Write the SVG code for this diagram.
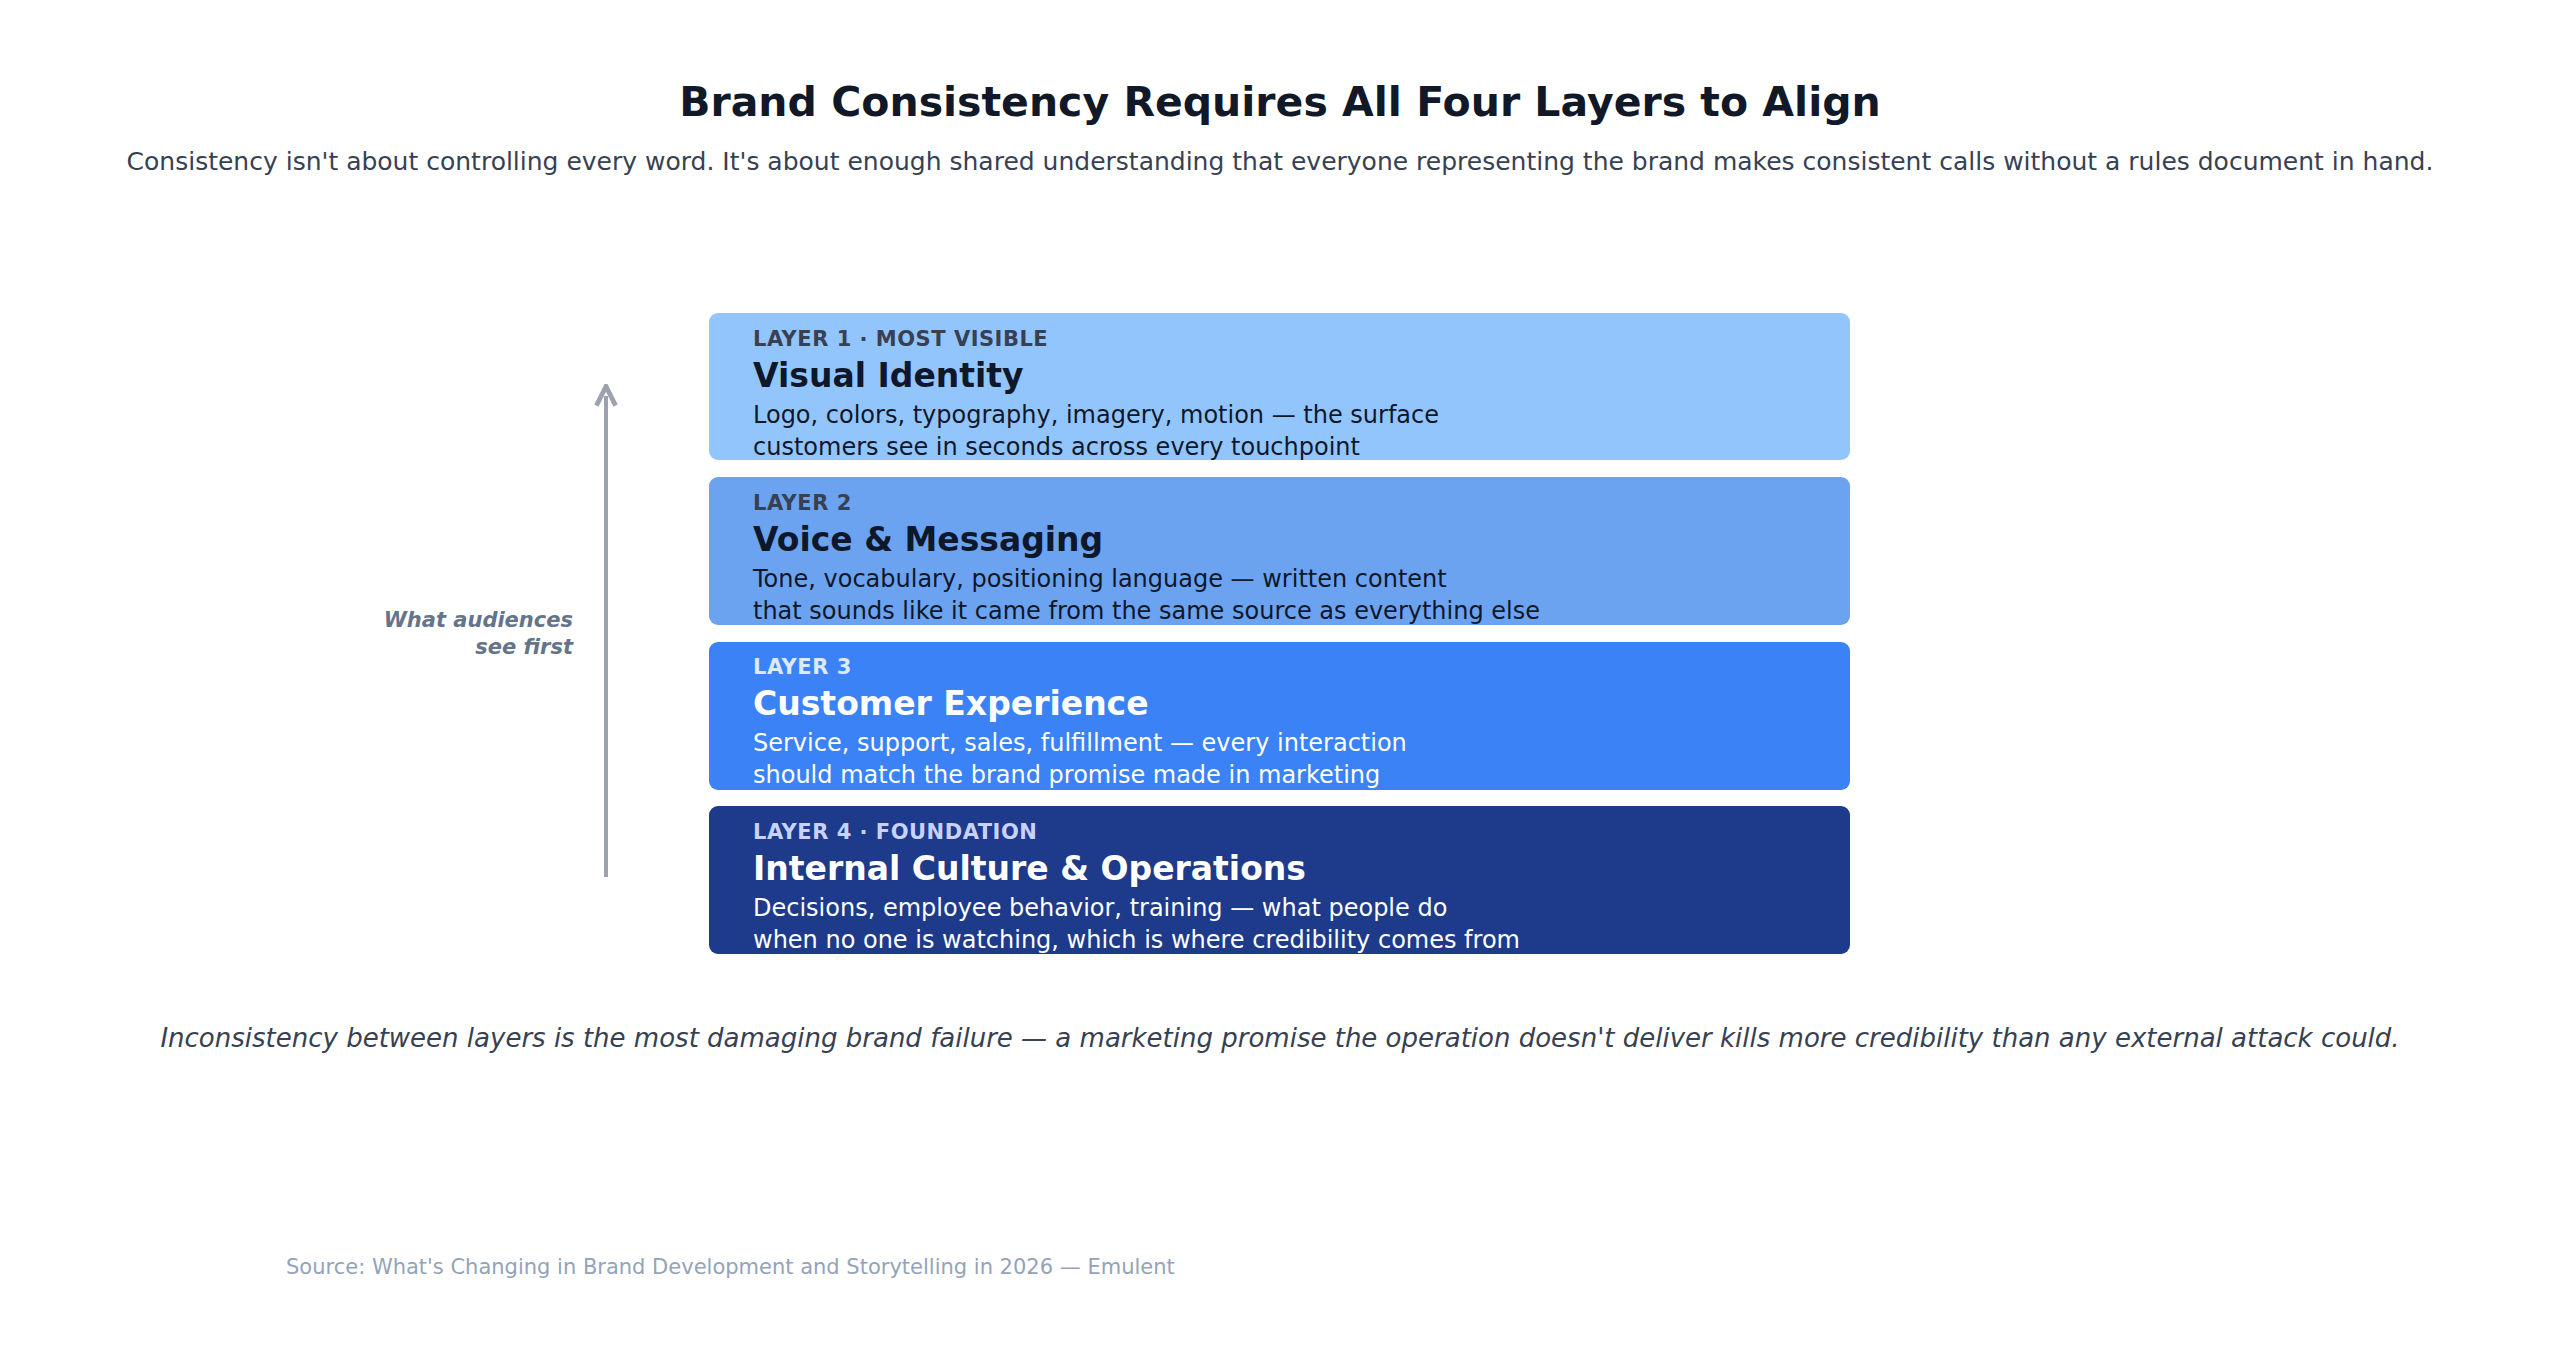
<svg xmlns="http://www.w3.org/2000/svg" width="2560" height="1347" viewBox="0 0 2560 1347">
<style>
text{font-family:"DejaVu Sans",sans-serif}
.lab{font-size:21px;font-weight:bold;letter-spacing:0.5px}
.ttl{font-size:33px;font-weight:bold}
.dsc{font-size:24px}
.dk .lab{fill:#374151}.dk .ttl,.dk .dsc{fill:#0f172a}
.lt .ttl,.lt .dsc{fill:#ffffff}
</style>
<defs><marker id="ah" viewBox="0 0 10 10" refX="5" refY="5" markerWidth="6" markerHeight="6" orient="auto"><path d="M1,1 L9,5 L1,9" fill="none" stroke="#9ca3af" stroke-width="2"/></marker></defs>
<rect width="2560" height="1347" fill="#fff"/>
<text x="1280" y="116" text-anchor="middle" font-size="41" font-weight="bold" fill="#111827">Brand Consistency Requires All Four Layers to Align</text>
<text x="1280" y="170" text-anchor="middle" font-size="25" fill="#374151">Consistency isn't about controlling every word. It's about enough shared understanding that everyone representing the brand makes consistent calls without a rules document in hand.</text>
<g id="connectors"><line x1="606" y1="877" x2="606" y2="396" stroke="#9ca3af" stroke-width="4" marker-end="url(#ah)"/></g>
<g id="axis-label" font-size="21" font-style="italic" font-weight="bold" fill="#64748b" text-anchor="end"><text x="573" y="627">What audiences</text><text x="573" y="654">see first</text></g>
<g id="layer1" class="dk"><rect x="709" y="313" width="1141" height="147" rx="9" fill="#93c5fd"/><text class="lab" x="753" y="346">LAYER 1  ·  MOST VISIBLE</text><text class="ttl" x="753" y="387">Visual Identity</text><text class="dsc" x="753" y="423">Logo, colors, typography, imagery, motion — the surface</text><text class="dsc" x="753" y="455">customers see in seconds across every touchpoint</text></g>
<g id="layer2" class="dk"><rect x="709" y="477" width="1141" height="148" rx="9" fill="#6ba3f0"/><text class="lab" x="753" y="510">LAYER 2</text><text class="ttl" x="753" y="551">Voice &amp; Messaging</text><text class="dsc" x="753" y="587">Tone, vocabulary, positioning language — written content</text><text class="dsc" x="753" y="619">that sounds like it came from the same source as everything else</text></g>
<g id="layer3" class="lt"><rect x="709" y="642" width="1141" height="148" rx="9" fill="#3b82f6"/><text class="lab" x="753" y="674" fill="#dbeafe">LAYER 3</text><text class="ttl" x="753" y="715">Customer Experience</text><text class="dsc" x="753" y="751">Service, support, sales, fulfillment — every interaction</text><text class="dsc" x="753" y="783">should match the brand promise made in marketing</text></g>
<g id="layer4" class="lt"><rect x="709" y="806" width="1141" height="148" rx="9" fill="#1e3a8a"/><text class="lab" x="753" y="839" fill="#c7d2fe">LAYER 4  ·  FOUNDATION</text><text class="ttl" x="753" y="880">Internal Culture &amp; Operations</text><text class="dsc" x="753" y="916">Decisions, employee behavior, training — what people do</text><text class="dsc" x="753" y="948">when no one is watching, which is where credibility comes from</text></g>
<text x="1280" y="1047" text-anchor="middle" font-size="26" font-style="italic" fill="#374151">Inconsistency between layers is the most damaging brand failure — a marketing promise the operation doesn't deliver kills more credibility than any external attack could.</text>
<text x="286" y="1274" font-size="21" fill="#94a3b8">Source: What's Changing in Brand Development and Storytelling in 2026 — Emulent</text>
</svg>
